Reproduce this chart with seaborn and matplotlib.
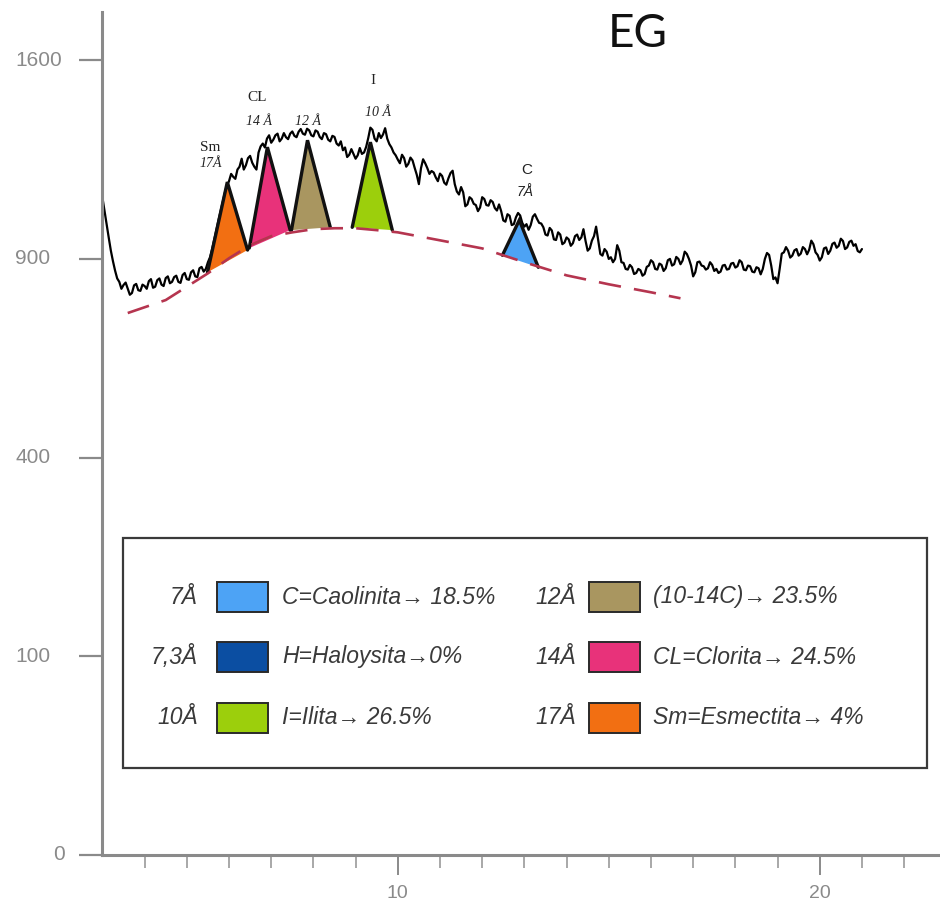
import numpy as np
import pandas as pd
import matplotlib
matplotlib.use("Agg")
import matplotlib.pyplot as plt
import seaborn as sns
from matplotlib.patches import Rectangle
from matplotlib.ticker import FixedLocator

# ---------------- data ----------------
theta_start, theta_step = 3.0, 0.05
counts = [
    1095, 1050, 1005, 965, 925, 893, 865, 842, 832, 812, 823, 830, 812, 795, 800, 822, 826, 808, 806, 824,
    820, 812, 834, 840, 815, 818, 837, 842, 824, 820, 843, 848, 828, 832, 846, 850, 832, 829, 852, 858,
    840, 838, 860, 866, 848, 846, 872, 876, 862, 870, 890, 905, 930, 960, 990, 1020, 1050, 1080, 1110, 1135,
    1150, 1175, 1165, 1158, 1190, 1200, 1228, 1190, 1205, 1230, 1238, 1214, 1200, 1190, 1250, 1272, 1282, 1268, 1300, 1312,
    1285, 1296, 1312, 1318, 1290, 1300, 1320, 1305, 1298, 1318, 1326, 1310, 1305, 1325, 1335, 1318, 1314, 1336, 1330, 1312,
    1308, 1330, 1325, 1306, 1298, 1320, 1316, 1296, 1290, 1310, 1306, 1282, 1275, 1290, 1258, 1268, 1234, 1242, 1262, 1245,
    1228, 1240, 1266, 1245, 1250, 1270, 1302, 1340, 1332, 1300, 1290, 1320, 1302, 1315, 1338, 1300, 1280, 1268, 1250, 1240,
    1225, 1212, 1242, 1230, 1200, 1210, 1232, 1222, 1196, 1172, 1140, 1195, 1226, 1212, 1195, 1175, 1185, 1180, 1163, 1150,
    1176, 1168, 1145, 1138, 1160, 1178, 1186, 1140, 1115, 1105, 1130, 1112, 1066, 1072, 1096, 1090, 1074, 1070, 1050, 1062,
    1096, 1090, 1070, 1068, 1086, 1080, 1060, 1052, 1072, 1050, 1020, 1016, 1040, 1035, 1005, 1008, 1030, 1044, 1036, 1012,
    1000, 1008, 990, 1005, 1032, 1040, 1025, 1012, 1010, 998, 975, 972, 996, 988, 960, 958, 982, 975, 945, 950,
    966, 960, 940, 948, 970, 975, 958, 966, 992, 955, 925, 932, 956, 970, 1000, 958, 915, 910, 930, 922,
    900, 905, 890, 900, 942, 925, 890, 888, 870, 868, 882, 875, 855, 858, 870, 866, 850, 855, 876, 880,
    896, 890, 870, 868, 886, 882, 864, 872, 896, 900, 880, 884, 906, 900, 884, 895, 922, 915, 900, 880,
    848, 860, 890, 892, 880, 878, 868, 872, 890, 882, 864, 870, 858, 862, 880, 882, 868, 870, 886, 888,
    874, 878, 896, 890, 868, 866, 880, 878, 862, 860, 875, 872, 854, 870, 900, 918, 912, 880, 840, 845,
    828, 870, 916, 920, 936, 925, 904, 910, 926, 930, 910, 916, 936, 930, 914, 928, 956, 945, 920, 912,
    895, 905, 932, 935, 915, 925, 946, 950, 934, 940, 962, 955, 930, 935, 952, 956, 940, 945, 924, 920,
    930,
]
two_theta = np.round(theta_start + theta_step * np.arange(len(counts)), 3)

base_theta = [3.6, 4.5, 5.5, 6.0, 6.5, 7.0, 7.5, 8.0, 8.5, 9.0, 9.5, 10.0,
              11.0, 12.0, 13.0, 14.0, 15.0, 16.0, 16.7]
base_counts = [744, 780, 857, 902, 942, 970, 982, 992, 995, 995, 989, 982,
               957, 932, 890, 851, 825, 802, 785]

# peaks (Sm, CL, 12A, I, C)
peak_left_theta = [5.49, 6.48, 7.48, 8.92, 12.48]
peak_left_counts = [860, 933, 989, 998, 911]
peak_apex_theta = [5.96, 6.91, 7.86, 9.35, 12.88]
peak_apex_counts = [1147, 1269, 1294, 1287, 1021]
peak_right_theta = [6.44, 7.45, 8.40, 9.87, 13.33]
peak_right_counts = [927, 989, 998, 989, 875]
peak_colors = ["#f26f12", "#e8327a", "#a99660", "#9ccf0c", "#4da3f5"]

peak_names = ["Sm", "CL", "", "I", "C"]
peak_d = ["17Å", "14 Å", "12 Å", "10 Å", "7Å"]

# legend
leg_d_left = ["7Å", "7,3Å", "10Å"]
leg_txt_left = ["C=Caolinita→ 18.5%", "H=Haloysita→0%", "I=Ilita→ 26.5%"]
leg_col_left = ["#4da3f5", "#0b4ea2", "#9ccf0c"]
leg_d_right = ["12Å", "14Å", "17Å"]
leg_txt_right = ["(10-14C)→ 23.5%", "CL=Clorita→ 24.5%", "Sm=Esmectita→ 4%"]
leg_col_right = ["#a99660", "#e8327a", "#f26f12"]

ytick_vals = [0, 100, 400, 900, 1600]
xtick_vals = [10, 20]
xminor_vals = [4, 5, 6, 7, 8, 9, 11, 12, 13, 14, 15, 16, 17, 18, 19, 21, 22]

# ---------------- figure ----------------
sns.set_style("white")
plt.rcParams["font.family"] = ["Liberation Sans", "DejaVu Sans"]

W, H = 940, 902
fig = plt.figure(figsize=(W / 100, H / 100), dpi=100)
ax = fig.add_axes([102 / W, 1 - 855 / H, (W - 102) / W, (855 - 12) / H])

ax.set_yscale("function", functions=(lambda y: np.sqrt(np.clip(y, 0, None)),
                                     lambda y: np.square(y)))
ax.set_xlim(2.99, 22.85)
ax.set_ylim(0, 1800)

trace = pd.DataFrame({"theta": two_theta, "counts": counts})
sns.lineplot(data=trace, x="theta", y="counts", ax=ax, color="black",
             lw=1.6, estimator=None, sort=False, zorder=2)

# peak triangles
for i in range(len(peak_colors)):
    xs = [peak_left_theta[i], peak_apex_theta[i], peak_right_theta[i]]
    ys = [peak_left_counts[i], peak_apex_counts[i], peak_right_counts[i]]
    ax.fill(xs, ys, facecolor=peak_colors[i], edgecolor="none", zorder=3)
    ax.plot(xs, ys, color="#111111", lw=2.4, zorder=4,
            solid_joinstyle="miter")

base = pd.DataFrame({"theta": base_theta, "counts": base_counts})
sns.lineplot(data=base, x="theta", y="counts", ax=ax, color="#b5354f",
             lw=1.9, estimator=None, sort=False, zorder=5)
ax.lines[-1].set_dashes([8.5, 5])

# peak labels
serif = ["Liberation Serif", "DejaVu Serif"]
lab_pos = [((5.56, 1269), (5.56, 1212)),
           ((6.67, 1455), (6.72, 1364)),
           ((7.88, 1455), (7.88, 1364)),
           ((9.42, 1520), (9.52, 1396)),
           ((13.05, 1188), (13.02, 1113))]
for i in range(len(peak_names)):
    (nx, ny), (dx, dy) = lab_pos[i]
    fam = serif if i < 4 else ["Liberation Sans", "DejaVu Sans"]
    if peak_names[i]:
        ax.text(nx, ny, peak_names[i], ha="center", va="center", fontsize=11,
                family=fam, color="#222222")
    ax.text(dx, dy, peak_d[i], ha="center", va="center", fontsize=10,
            family=fam, style="italic", color="#222222")

# axes styling
for s in ["top", "right"]:
    ax.spines[s].set_visible(False)
for s in ["left", "bottom"]:
    ax.spines[s].set_color("#8a8a8a")
    ax.spines[s].set_linewidth(2.2)

ax.yaxis.set_major_locator(FixedLocator(ytick_vals))
ax.xaxis.set_major_locator(FixedLocator(xtick_vals))
ax.xaxis.set_minor_locator(FixedLocator(xminor_vals))
ax.tick_params(axis="y", which="major", left=True, direction="out",
               length=16.5, width=1.6, color="#8a8a8a", labelleft=False)
ax.tick_params(axis="x", which="major", bottom=True, direction="out",
               length=14.5, width=1.4, color="#8a8a8a", labelsize=14,
               labelcolor="#8a8a8a", pad=7)
ax.tick_params(axis="x", which="minor", bottom=True, direction="out",
               length=9.5, width=1.2, color="#9a9a9a")
ax.set_xticklabels([str(v) for v in xtick_vals])
ax.set_xlabel("")
ax.set_ylabel("")

ytr = ax.get_yaxis_transform()
for v in ytick_vals:
    if v == 0:
        ax.text(-37 / 838, v, str(v), transform=ytr, ha="right", va="center",
                fontsize=15, color="#8a8a8a", clip_on=False)
    else:
        ax.text(-87 / 838, v, str(v), transform=ytr, ha="left", va="center",
                fontsize=15, color="#8a8a8a", clip_on=False)

# title
fig.text(638 / W, 1 - 34 / H, "EG", ha="center", va="center", fontsize=33,
         family=["Lato", "DejaVu Sans"], color="#111111")

# legend box
def fx(px):
    return px / W

def fy(py):
    return 1 - py / H

fig.add_artist(Rectangle((fx(123), fy(768)), fx(927) - fx(123), fy(538) - fy(768),
                         transform=fig.transFigure, fill=False,
                         edgecolor="#3a3a3a", lw=1.6))
row_y = [597, 657, 718]
for col, (dlab, txt, cols, lab_r, sw_l, txt_l) in enumerate([
        (leg_d_left, leg_txt_left, leg_col_left, 198, 217, 282),
        (leg_d_right, leg_txt_right, leg_col_right, 576, 589, 653)]):
    for j in range(3):
        yy = row_y[j]
        fig.text(fx(lab_r), fy(yy), dlab[j], ha="right", va="center",
                 fontsize=16.5, style="italic", color="#3a3a3a")
        fig.add_artist(Rectangle((fx(sw_l), fy(yy + 15)), fx(51), 30 / H,
                                 transform=fig.transFigure, facecolor=cols[j],
                                 edgecolor="#2a2a2a", lw=1.4))
        fig.text(fx(txt_l), fy(yy), txt[j], ha="left", va="center",
                 fontsize=16.5, style="italic", color="#3a3a3a",
                 family=["Liberation Sans", "DejaVu Sans"])

fig.savefig("out.png", dpi=100)
